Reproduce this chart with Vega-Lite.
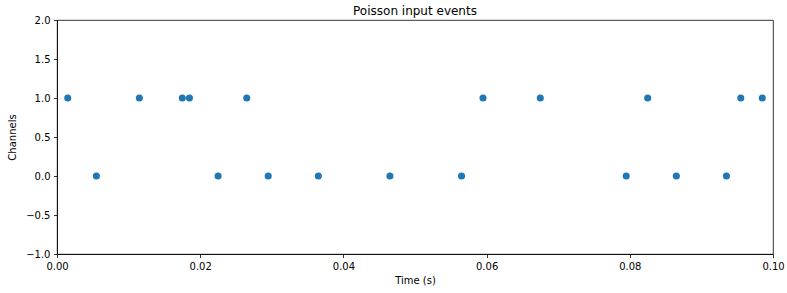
{
  "$schema": "https://vega.github.io/schema/vega-lite/v6.json",
  "autosize": "none",
  "width": 716,
  "height": 234,
  "padding": {"left": 57, "top": 20, "right": 14, "bottom": 39},
  "background": "white",
  "title": {"text": "Poisson input events", "fontSize": 12, "fontWeight": "normal", "font": "DejaVu Sans", "color": "black", "offset": -3, "frame": "group"},
  "config": {
    "view": {"stroke": "black", "strokeWidth": 0.8},
    "axis": {
      "labelFont": "DejaVu Sans", "titleFont": "DejaVu Sans",
      "labelFontSize": 10, "titleFontSize": 10, "titleFontWeight": "normal",
      "labelColor": "black", "titleColor": "black",
      "tickColor": "black", "domainColor": "black", "domainWidth": 0.8, "tickWidth": 0.8,
      "tickSize": 3.5, "labelPadding": 3.5, "grid": false, "labelFlush": false
    }
  },
  "data": {"values": [
    {"t": 0.0015, "ch": 1}, {"t": 0.0055, "ch": 0}, {"t": 0.0115, "ch": 1},
    {"t": 0.0175, "ch": 1}, {"t": 0.0185, "ch": 1}, {"t": 0.0225, "ch": 0},
    {"t": 0.0265, "ch": 1}, {"t": 0.0295, "ch": 0}, {"t": 0.0365, "ch": 0},
    {"t": 0.0465, "ch": 0}, {"t": 0.0565, "ch": 0}, {"t": 0.0595, "ch": 1},
    {"t": 0.0675, "ch": 1}, {"t": 0.0795, "ch": 0}, {"t": 0.0825, "ch": 1},
    {"t": 0.0865, "ch": 0}, {"t": 0.0935, "ch": 0}, {"t": 0.0955, "ch": 1},
    {"t": 0.0985, "ch": 1}
  ]},
  "mark": {"type": "point", "filled": true, "opacity": 1, "size": 50, "color": "#1f77b4", "shape": "circle"},
  "encoding": {
    "x": {"field": "t", "type": "quantitative", "title": "Time (s)",
      "scale": {"domain": [0, 0.1], "nice": false, "zero": false, "padding": 0},
      "axis": {"values": [0, 0.02, 0.04, 0.06, 0.08, 0.1], "format": ".2f", "titlePadding": 4}},
    "y": {"field": "ch", "type": "quantitative", "title": "Channels",
      "scale": {"domain": [-1, 2], "nice": false, "zero": false, "padding": 0},
      "axis": {"values": [-1, -0.5, 0, 0.5, 1, 1.5, 2], "format": ".1f", "titlePadding": 8}}
  }
}
